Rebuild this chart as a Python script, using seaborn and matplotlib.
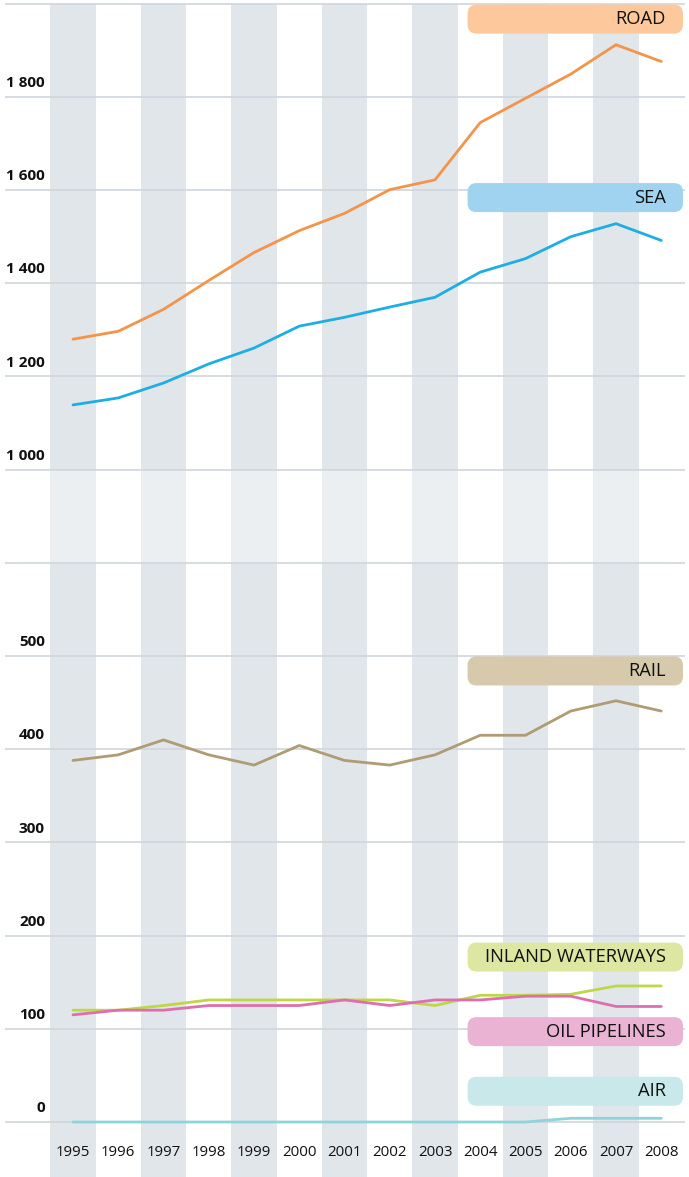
import numpy as np
import pandas as pd
import matplotlib.pyplot as plt
import seaborn as sns
from matplotlib.patches import FancyBboxPatch


years = list(range(1995, 2009))
road = [1280, 1297, 1344, 1406, 1466, 1513, 1550, 1601, 1622, 1745, 1797, 1849, 1912, 1876]
sea = [1139, 1154, 1186, 1227, 1261, 1308, 1327, 1349, 1370, 1424, 1453, 1500, 1528, 1492]
rail = [388, 394, 410, 394, 383, 404, 388, 383, 394, 415, 415, 441, 452, 441]
inland = [120, 120, 125, 131, 131, 131, 131, 131, 125, 136, 136, 137, 146, 146]
oil = [115, 120, 120, 125, 125, 125, 131, 125, 131, 131, 135, 135, 124, 124]
air = [0, 0, 0, 0, 0, 0, 0, 0, 0, 0, 0, 4, 4, 4]

modes = ['ROAD', 'SEA', 'RAIL', 'INLAND WATERWAYS', 'OIL PIPELINES', 'AIR']
line_colors = ['#f4944a', '#1eaee3', '#b09c74', '#bfd646', '#de6fae', '#8fd4d9']
box_colors = ['#fdc89c', '#a0d3f0', '#d6c9ac', '#dde7a1', '#eab3d4', '#c8e8ea']
label_y = [1967, 1584, 484, 177, 97, 33]

grid_vals = [0, 100, 200, 300, 400, 500, 600, 1000, 1200, 1400, 1600, 1800, 2000]
tick_vals = [0, 100, 200, 300, 400, 500, 1000, 1200, 1400, 1600, 1800]

df = pd.DataFrame({
    'year': years * 6,
    'value': road + sea + rail + inland + oil + air,
    'mode': [m for m in modes for _ in years],
})


# broken axis: 0-600 linear, 600-1000 squeezed, 1000+ at half scale
def fwd(v):
    v = np.asarray(v, dtype=float)
    return np.where(v <= 600, v, np.where(v < 1000, 600 + (v - 600) / 4, 700 + (v - 1000) / 2))


def inv(t):
    t = np.asarray(t, dtype=float)
    return np.where(t <= 600, t, np.where(t < 700, 600 + (t - 600) * 4, 1000 + (t - 700) * 2))


sns.set_style('white')
plt.rcParams['font.family'] = ['Open Sans', 'DejaVu Sans']
text_col = '#111111'

fig = plt.figure(figsize=(6.89, 11.77), dpi=100)
ax = fig.add_axes([0, 0, 1, 1])
ax.set_yscale('function', functions=(fwd, inv))
ax.set_xlim(1993.387, 2008.613)
ax.set_ylim(-59, 2008)

# alternating year stripes
for y in years[::2]:
    ax.fill_between([y - 0.5, y + 0.5], -59, 2000, color='#e1e6ea', lw=0, zorder=0)
ax.fill_between([1993.387, 2008.613], 600, 1000, color='white', alpha=0.4, lw=0, zorder=1)

ax.hlines(grid_vals, 1993.5, 2008.53, color='#cfd6dd', lw=1.2, zorder=2)

sns.lineplot(data=df, x='year', y='value', hue='mode', palette=dict(zip(modes, line_colors)),
             hue_order=modes, legend=False, linewidth=2, ax=ax, zorder=3)

for v in tick_vals:
    lab = f'{v:,}'.replace(',', ' ')
    ax.annotate(lab, (1994.38, v), xytext=(0, 5), textcoords='offset points',
                ha='right', va='bottom', fontsize=11, fontweight='bold', color=text_col)

for y in years:
    ax.text(y, -33, str(y), ha='center', va='center', fontsize=10.8, color=text_col)

# label boxes on the right
fig.canvas.draw()
for m, c, ly in zip(modes, box_colors, label_y):
    x0, yc = ax.transData.transform((2003.72, ly))
    x1, _ = ax.transData.transform((2008.48, ly))
    h = 29
    box = FancyBboxPatch((x0, yc - h / 2), x1 - x0, h, boxstyle='round,pad=0,rounding_size=9',
                         transform=None, facecolor=c, edgecolor='none', zorder=4)
    ax.add_artist(box)
    ax.text(2008.1, ly, m, ha='right', va='center', fontsize=13.2, color=text_col, zorder=5)

ax.set_axis_off()
fig.savefig('out.png', dpi=100)
